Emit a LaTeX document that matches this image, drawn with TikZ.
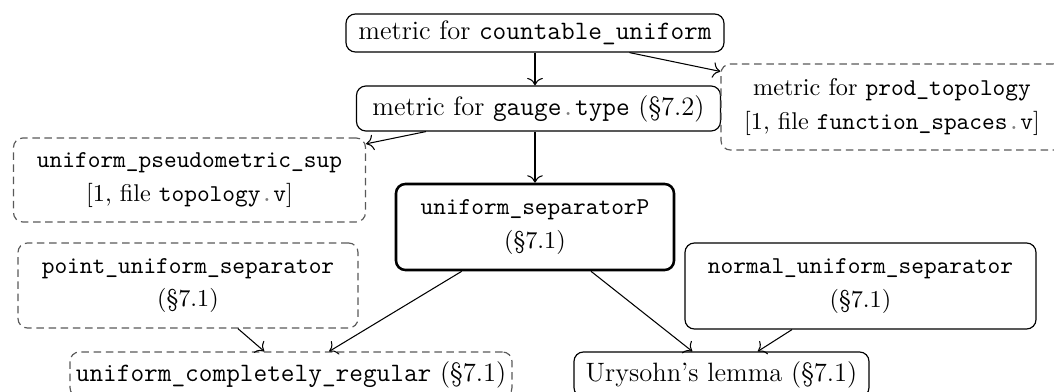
\documentclass[tikz,border=0pt]{standalone}
\usepackage{xcolor}
\usetikzlibrary{arrows.meta}
\def\px{0.4274pt}
\begin{document}
\begin{tikzpicture}[x=0.4274pt,y=-0.4274pt,
  box/.style={draw, line width=0.5pt, rounded corners=4pt, inner sep=0pt, align=center},
  one/.style={box, font=\fontsize{11.35}{13.5}\selectfont},
  two/.style={box, font=\fontsize{10.35}{14.3}\selectfont},
  ext/.style={dash pattern=on 3.2pt off 2pt, draw=black!65},
  key/.style={line width=1.1pt},
  arr/.style={-{To[length=3.2pt]}, line width=0.45pt},
  sz/.style 2 args={minimum width={#1*\px}, minimum height={#2*\px}}
]
\useasboundingbox (0,0) rectangle (1054,392);
\clip (0,0) rectangle (1054,392);

\node[one, sz={378}{38}] (A) at (535,33) {metric for \texttt{countable\_uniform}};
\node[one, sz={364}{45}] (B) at (538.5,108.5) {metric for \texttt{gauge\textcolor{gray}{.}type} (\S7.2)};
\node[two, ext, sz={342}{86}] (C) at (892,107) {metric for \texttt{prod\_topology}\\{}[1, file \texttt{function\_spaces\textcolor{gray}{.}v}]};
\node[two, ext, sz={352}{84}] (D) at (189.5,180) {\texttt{uniform\_pseudometric\_sup}\\{}[1, file \texttt{topology\textcolor{gray}{.}v}]};
\node[two, key, sz={278}{86}] (E) at (535,227) {\texttt{uniform\_separatorP}\\(\S7.1)};
\node[two, ext, sz={340}{85}] (F) at (188,285.5) {\texttt{point\_uniform\_separator}\\(\S7.1)};
\node[two, sz={351}{86}] (G) at (860.5,286) {\texttt{normal\_uniform\_separator}\\(\S7.1)};
\node[one, ext, sz={442}{45}] (H) at (291,374.5) {\texttt{uniform\_completely\_regular} (\S7.1)};
\node[one, sz={295}{45}] (I) at (721.5,374.5) {Urysohn’s lemma (\S7.1)};

\draw[arr] (A.south) -- (A.south |- B.north);
\draw[arr] (A) -- (C);
\draw[arr] (B) -- (D);
\draw[arr] (E.north |- B.south) -- (E.north);
\draw[arr] (E) -- (H);
\draw[arr] (E) -- (I);
\draw[arr] (F) -- (H);
\draw[arr] (G) -- (I);
\end{tikzpicture}
\end{document}
